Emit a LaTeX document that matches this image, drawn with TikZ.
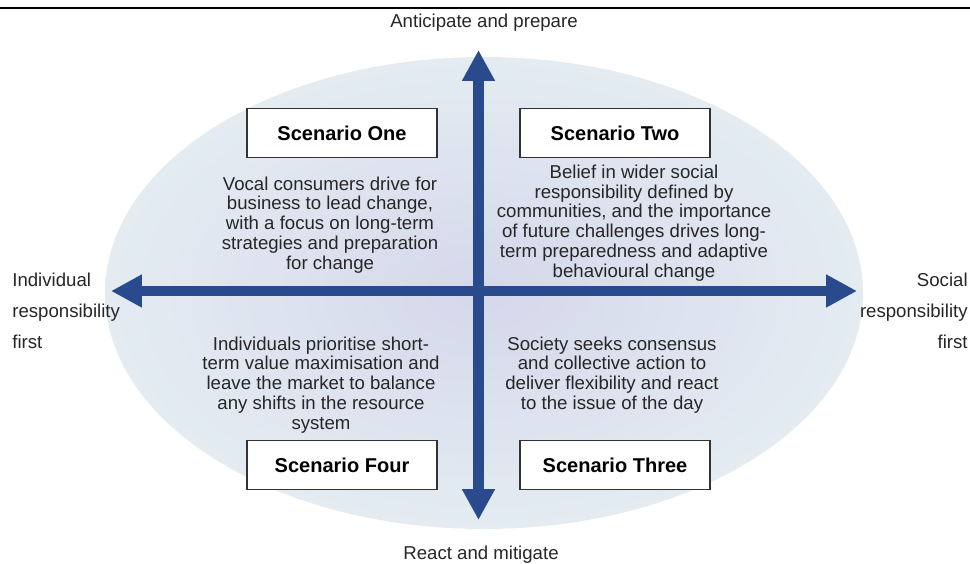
\documentclass[tikz,border=0pt]{standalone}
\usepackage{fontspec}
\setmainfont{Liberation Sans}
\usepackage{xcolor}
\usepackage{tikz}
\usetikzlibrary{arrows.meta,positioning}

\definecolor{axisblue}{RGB}{42,74,142}
\definecolor{ovalin}{RGB}{212,216,235}
\definecolor{ovalout}{RGB}{228,236,242}

\begin{document}
\begin{tikzpicture}[x=0.02cm, y=-0.02cm,
    scenbox/.style={draw=black!80, fill=white, line width=0.7pt,
      minimum width=3.8cm, minimum height=0.98cm,
      font=\fontsize{11.4}{13}\selectfont\bfseries},
    scentext/.style={align=center, inner sep=0pt, text=black!85,
      font=\fontsize{10.6}{11.3}\selectfont},
    sidelabel/.style={inner sep=0pt, text=black!85,
      font=\fontsize{10.6}{17.6}\selectfont},
    axis/.style={draw=axisblue, fill=axisblue, line width=6.2pt,
      {Triangle[length=17.6pt,width=17.6pt]}-{Triangle[length=17.6pt,width=17.6pt]}}]
  \useasboundingbox (0,0) rectangle (970,564);

  % Heading rule
  \draw[line width=1.2pt] (0,8) -- (970,8);

  % Background oval
  \shade[inner color=ovalin, outer color=ovalout] (484,293) ellipse (379 and 236);

  % Axes
  \coordinate (axN) at (478.5,50);
  \coordinate (axS) at (478.5,520);
  \coordinate (axW) at (111,291);
  \coordinate (axE) at (857,291);
  \draw[axis] (axS) -- (axN);
  \draw[axis] (axW) -- (axE);

  % Axis labels
  \node[sidelabel] (antic) at (484,23) {Anticipate and prepare};
  \node[sidelabel] (react) at (481,555) {React and mitigate};
  \node[sidelabel, anchor=west, align=left] (indiv) at (12,311)
    {Individual\\responsibility\\first};
  \node[sidelabel, anchor=east, align=right] (social) at (968,311)
    {Social\\responsibility\\first};

  % Scenario boxes
  \node[scenbox] (sOne) at (342,133) {Scenario One};
  \node[scenbox] (sTwo) at (615,133) {Scenario Two};
  \node[scenbox] (sFour) at (342,465) {Scenario Four};
  \node[scenbox] (sThree) at (615,465) {Scenario Three};

  % Scenario texts
  \node[scentext] (tOne) at (330,225)
    {Vocal consumers drive for\\business to lead change,\\with a focus on long-term\\strategies and preparation\\for change};
  \node[scentext] (tTwo) at (634,223)
    {Belief in wider social\\responsibility defined by\\communities, and the importance\\of future challenges drives long-\\term preparedness and adaptive\\behavioural change};
  \node[scentext] (tFour) at (321,385)
    {Individuals prioritise short-\\term value maximisation and\\leave the market to balance\\any shifts in the resource\\system};
  \node[scentext] (tThree) at (612,375)
    {Society seeks consensus\\and collective action to\\deliver flexibility and react\\to the issue of the day};
\end{tikzpicture}
\end{document}
